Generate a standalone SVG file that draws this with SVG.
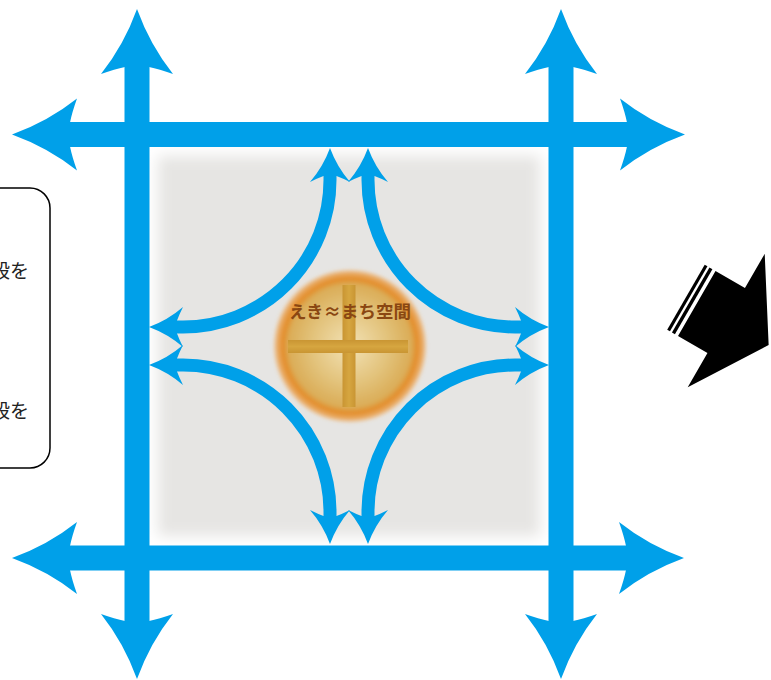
<svg xmlns="http://www.w3.org/2000/svg" xmlns:xlink="http://www.w3.org/1999/xlink" width="771" height="680" viewBox="0 0 771 680">
  <style>
    .bar { stroke: #00a0e9; stroke-width: 25; fill: none; }
    .curve { stroke: #00a0e9; stroke-width: 13; fill: none; }
    .head { fill: #00a0e9; }
    .note { font-family: "Noto Sans CJK JP", "Noto Sans", sans-serif; font-size: 19px; fill: #222; }
    .label { font-family: "Noto Sans CJK JP", "Noto Sans", sans-serif; font-size: 17.5px; font-weight: bold; fill: #8a4712; }
  </style>
  <defs>
    <path id="bh" d="M0,0 Q-13,36 -36,65 Q-22,60 -12,58 L12,58 Q22,60 36,65 Q13,36 0,0 Z"/>
    <path id="sh" d="M0,0 Q-7,19 -20,34 Q-12,30 -6.5,28 L6.5,28 Q12,30 20,34 Q7,19 0,0 Z"/>
    <filter id="soft" x="-10%" y="-10%" width="120%" height="120%">
      <feGaussianBlur stdDeviation="7"/>
    </filter>
    <filter id="glow" x="-20%" y="-20%" width="140%" height="140%">
      <feGaussianBlur stdDeviation="1.5"/>
    </filter>
    <radialGradient id="cg" cx="0.5" cy="0.5" r="0.5">
      <stop offset="0" stop-color="#f2e2b6"/>
      <stop offset="0.5" stop-color="#e2c27a"/>
      <stop offset="0.78" stop-color="#dbad58"/>
      <stop offset="0.86" stop-color="#e38e2c"/>
      <stop offset="0.93" stop-color="#e99538" stop-opacity="0.75"/>
      <stop offset="1" stop-color="#f2a850" stop-opacity="0"/>
    </radialGradient>
    <linearGradient id="crossV" x1="0" y1="0" x2="1" y2="0">
      <stop offset="0" stop-color="#c99533"/>
      <stop offset="0.5" stop-color="#d6a640"/>
      <stop offset="1" stop-color="#c99533"/>
    </linearGradient>
    <linearGradient id="crossH" x1="0" y1="0" x2="0" y2="1">
      <stop offset="0" stop-color="#c99533"/>
      <stop offset="0.5" stop-color="#d6a640"/>
      <stop offset="1" stop-color="#c99533"/>
    </linearGradient>
  </defs>

  <!-- background panel -->
  <rect x="158" y="156" width="382" height="380" fill="#e6e5e3" filter="url(#soft)"/>

  <!-- left note box (cropped) -->
  <g id="note">
    <rect x="-30" y="188" width="80" height="280" rx="20" ry="20" fill="#fff" stroke="#000" stroke-width="1.5"/>
    <text class="note" x="29" y="278" text-anchor="end">段を</text>
    <text class="note" x="29" y="418" text-anchor="end">段を</text>
  </g>

  <!-- connectors -->
  <g id="connectors">
    <path class="bar" d="M60,134.5 H634"/>
    <path class="bar" d="M60,558 H634"/>
    <path class="bar" d="M137,60 V626"/>
    <path class="bar" d="M561,60 V626"/>
    <use href="#bh" class="head" transform="translate(137,9)"/>
    <use href="#bh" class="head" transform="translate(137,679) rotate(180)"/>
    <use href="#bh" class="head" transform="translate(561,9)"/>
    <use href="#bh" class="head" transform="translate(561,679) rotate(180)"/>
    <use href="#bh" class="head" transform="translate(12,134.5) rotate(-90)"/>
    <use href="#bh" class="head" transform="translate(685,134.5) rotate(90)"/>
    <use href="#bh" class="head" transform="translate(12,558) rotate(-90)"/>
    <use href="#bh" class="head" transform="translate(684,558) rotate(90)"/>

    <path class="curve" d="M330,172 V180 A147,147 0 0 1 183,327 H172"/>
    <path class="curve" d="M368,172 V180 A147,147 0 0 0 515,327 H526"/>
    <path class="curve" d="M330,520 V512 A147,147 0 0 0 183,365 H172"/>
    <path class="curve" d="M368,520 V512 A147,147 0 0 1 515,365 H526"/>
    <use href="#sh" class="head" transform="translate(330,148)"/>
    <use href="#sh" class="head" transform="translate(368,148)"/>
    <use href="#sh" class="head" transform="translate(330,544) rotate(180)"/>
    <use href="#sh" class="head" transform="translate(368,544) rotate(180)"/>
    <use href="#sh" class="head" transform="translate(149,327) rotate(-90)"/>
    <use href="#sh" class="head" transform="translate(149,365) rotate(-90)"/>
    <use href="#sh" class="head" transform="translate(549,327) rotate(90)"/>
    <use href="#sh" class="head" transform="translate(549,365) rotate(90)"/>
  </g>

  <!-- centre node -->
  <g id="ekimachi">
    <circle cx="350" cy="346" r="78" fill="url(#cg)" filter="url(#glow)"/>
    <rect x="342.5" y="285" width="13" height="122" fill="url(#crossV)"/>
    <rect x="288" y="340" width="120" height="13" fill="url(#crossH)"/>
    <text class="label" x="350" y="318" text-anchor="middle">えき≈まち空間</text>
  </g>

  <!-- black arrow -->
  <g id="bigArrow" transform="translate(698.5,304.5) rotate(30)" fill="#000">
    <path d="M-2,-37.5 H32 V-77 L81,0 L32,77 V37.5 H-2 Z"/>
    <rect x="-14.5" y="-37.5" width="3.2" height="75"/>
    <rect x="-9" y="-37.5" width="3.4" height="75"/>
  </g>
</svg>
